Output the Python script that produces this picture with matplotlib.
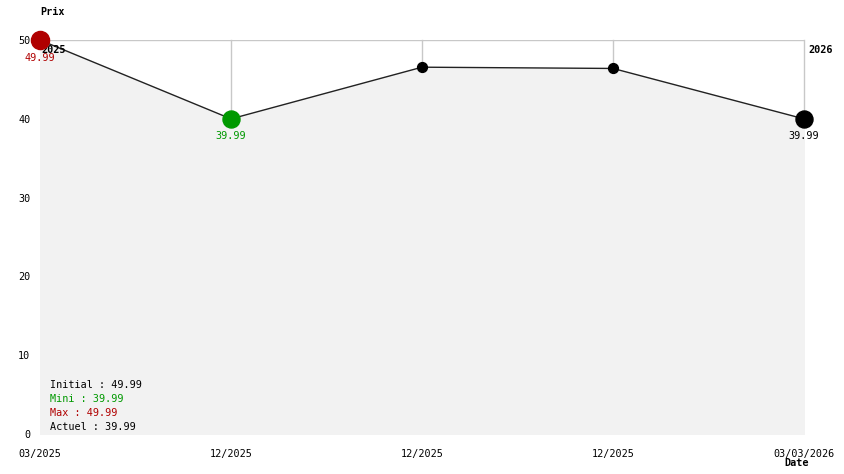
import matplotlib

matplotlib.use("Agg")

import matplotlib.pyplot as plt

dates = ["03/2025", "12/2025", "12/2025", "12/2025", "03/03/2026"]
prices = [49.99, 39.99, 46.55, 46.39, 39.99]
years = ["2025", "2026"]
y_ticks = [0, 10, 20, 30, 40, 50]

RED = "#b00000"
GREEN = "#009900"
GRID = "#c8c8c8"
FILL = "#f2f2f2"
FONT = "DejaVu Sans Mono"
FS = 7.3

fig = plt.figure(figsize=(8.44, 4.74), dpi=100)
ax = fig.add_axes([40 / 844, 40 / 474, 764 / 844, 394 / 474])
xs = list(range(len(prices)))

ax.fill_between(xs, 0, prices, color=FILL, zorder=1)
ax.axhline(50, color=GRID, lw=1, zorder=0)
for x, p in zip(xs[1:], prices[1:]):
    ax.plot([x, x], [p, 50], color=GRID, lw=1, zorder=0, clip_on=False)
ax.plot(xs, prices, color="#222222", lw=1, zorder=2)

ax.scatter(xs[2:4], prices[2:4], s=50, color="black", zorder=3)
ax.scatter([xs[0]], [prices[0]], s=170, color=RED, zorder=5, clip_on=False)
ax.scatter([xs[1]], [prices[1]], s=150, color=GREEN, zorder=5)
ax.scatter([xs[-1]], [prices[-1]], s=150, color="black", zorder=5, clip_on=False)

# year markers at the top (the first one sits mostly under the red dot)
ax.text(41 / 844, 1 - 50 / 474, years[0], fontsize=FS, family=FONT, weight="bold",
        va="center", zorder=4, transform=fig.transFigure)
ax.text(808 / 844, 1 - 50 / 474, years[1], fontsize=FS, family=FONT, weight="bold",
        va="center", transform=fig.transFigure)

ax.text(xs[0], prices[0] - 1.7, f"{prices[0]:.2f}", color=RED, fontsize=FS, family=FONT,
        ha="center", va="top", zorder=6)
ax.text(xs[1], prices[1] - 1.6, f"{prices[1]:.2f}", color=GREEN, fontsize=FS, family=FONT,
        ha="center", va="top", zorder=6)
ax.text(xs[-1], prices[-1] - 1.6, f"{prices[-1]:.2f}", color="black", fontsize=FS, family=FONT,
        ha="center", va="top", zorder=6, clip_on=False)

legend = [
    (f"Initial : {prices[0]:.2f}", "black"),
    (f"Mini : {min(prices):.2f}", GREEN),
    (f"Max : {max(prices):.2f}", RED),
    (f"Actuel : {prices[-1]:.2f}", "black"),
]
for i, (txt, col) in enumerate(legend):
    fig.text(50 / 844, 1 - (385 + i * 14) / 474, txt, color=col, fontsize=FS, family=FONT,
             va="center")

ax.set_xlim(0, len(prices) - 1)
ax.set_ylim(0, 50)
ax.set_xticks(xs)
ax.set_xticklabels(dates, family=FONT, fontsize=FS)
ax.set_yticks(y_ticks)
ax.set_yticklabels([str(t) for t in y_ticks], family=FONT, fontsize=FS)
ax.tick_params(length=0)
ax.tick_params(axis="x", pad=11)
ax.tick_params(axis="y", pad=7)
for s in ax.spines.values():
    s.set_visible(False)
ax.patch.set_alpha(0)

fig.text(40 / 844, 1 - 12 / 474, "Prix", fontsize=FS, family=FONT, weight="bold", va="center")
fig.text(797 / 844, 1 - 463 / 474, "Date", fontsize=FS, family=FONT, weight="bold",
         va="center", ha="center")

fig.savefig("out.png", dpi=100)
